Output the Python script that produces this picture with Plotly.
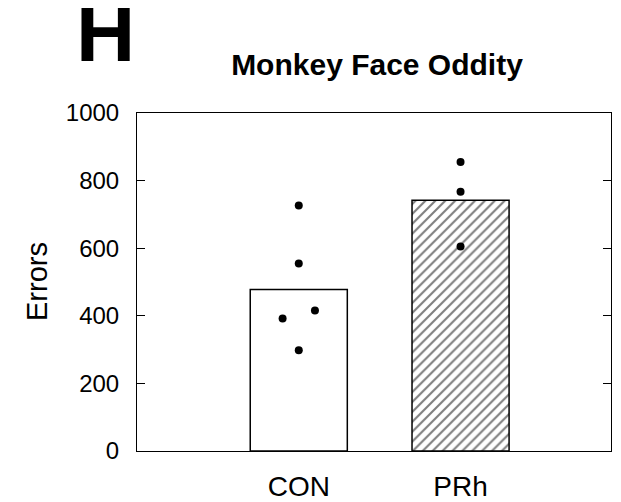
# =========================================
# Monkey Face Oddity - errors per group
# =========================================

import plotly.graph_objects as go


# =========================================
# Data
# =========================================

groups = ["CON", "PRh"]

group_means = [478, 742]

con_errors = [726, 555, 416, 392, 298]

prh_errors = [855, 767, 605]

# horizontal jitter of the individual points (display only)
con_jitter = [0, 0, 0.1, -0.1, 0]

prh_jitter = [0, 0, 0]

y_ticks = [0, 200, 400, 600, 800, 1000]


FONT = "Liberation Sans, Arial, sans-serif"

# page body keeps an 8 px margin, so the figure is drawn 8 px smaller
W, H = 613, 494


# =========================================
# Create chart
# =========================================

fig = go.Figure()


# Bars (CON open, PRh hatched)

fig.add_trace(

    go.Bar(

        x=[0],

        y=[group_means[0]],

        width=0.6,

        marker=dict(
            color="white",
            line=dict(color="black", width=1.5)
        ),

        showlegend=False

    )

)


fig.add_trace(

    go.Bar(

        x=[1],

        y=[group_means[1]],

        width=0.6,

        marker=dict(
            color="white",
            line=dict(color="black", width=1.5),
            pattern=dict(
                shape="/",
                fgcolor="black",
                bgcolor="white",
                size=7,
                solidity=0.3
            )
        ),

        showlegend=False

    )

)


# Individual animals

fig.add_trace(

    go.Scatter(

        x=[0 + j for j in con_jitter],

        y=con_errors,

        mode="markers",

        marker=dict(color="black", size=8),

        showlegend=False

    )

)


fig.add_trace(

    go.Scatter(

        x=[1 + j for j in prh_jitter],

        y=prh_errors,

        mode="markers",

        marker=dict(color="black", size=8),

        showlegend=False

    )

)


# =========================================
# Layout
# =========================================

fig.update_layout(

    width=W,

    height=H,

    template="simple_white",

    paper_bgcolor="white",

    plot_bgcolor="white",

    margin=dict(l=129, r=10, t=105, b=51, autoexpand=False),

    font=dict(family=FONT, size=24, color="black"),

    title=dict(
        text="<b>Monkey Face Oddity</b>",
        font=dict(family=FONT, size=30, color="black"),
        xref="container",
        x=369 / W,
        xanchor="center",
        y=1 - 56 / H,
        yanchor="middle"
    ),

    xaxis=dict(
        range=[-1, 1.93],
        tickvals=[0, 1],
        ticktext=groups,
        ticks="",
        showline=True,
        linecolor="black",
        linewidth=1,
        mirror=True,
        ticklabelstandoff=10,
        tickfont=dict(family=FONT, size=28, color="black"),
        showgrid=False,
        zeroline=False
    ),

    yaxis=dict(
        range=[0, 1000],
        tickvals=y_ticks,
        ticks="inside",
        ticklen=8,
        tickcolor="black",
        showline=True,
        linecolor="black",
        linewidth=1,
        mirror="allticks",
        ticklabelstandoff=12,
        tickfont=dict(family=FONT, size=24, color="black"),
        showgrid=False,
        zeroline=False
    ),

    annotations=[

        dict(
            text="Errors",
            xref="paper",
            yref="paper",
            x=0,
            xshift=-100,
            y=0.5,
            xanchor="center",
            yanchor="middle",
            textangle=-90,
            showarrow=False,
            font=dict(family=FONT, size=29, color="black")
        ),

        dict(
            text="<b>H</b>",
            xref="paper",
            yref="paper",
            x=0,
            xshift=-32,
            y=1,
            yshift=81,
            xanchor="center",
            yanchor="middle",
            showarrow=False,
            font=dict(family=FONT, size=82, color="black")
        )

    ]

)


fig.write_html("out.html")
